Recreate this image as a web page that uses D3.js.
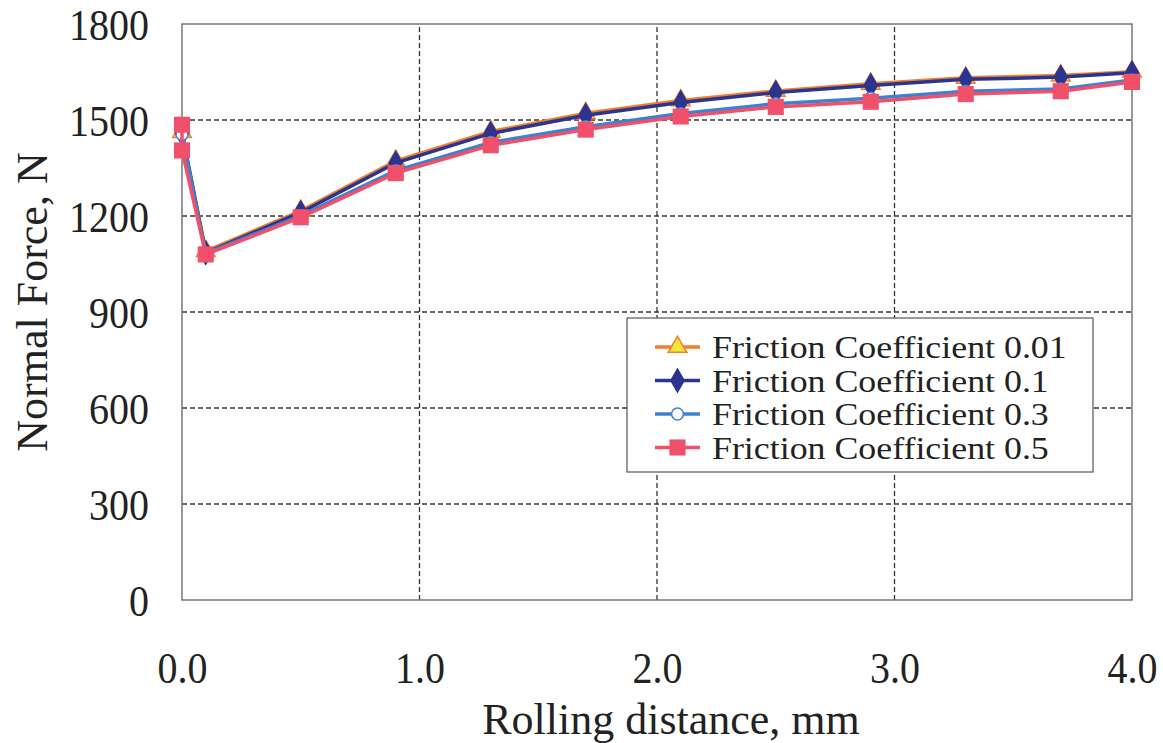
<!DOCTYPE html>
<html lang="en">
<head>
    <meta charset="UTF-8">
    <title>Normal force vs rolling distance</title>
    <script src="https://d3js.org/d3.v7.min.js"></script>
    <style>
        body { margin: 0; background: #fff; }
        svg { font-family: 'Liberation Serif', 'DejaVu Serif', serif; }
    </style>
</head>
<body>
    <div id="chart"></div>
    <script>
    // data
    var distance = [0, 0.1, 0.5, 0.9, 1.3, 1.7, 2.1, 2.5, 2.9, 3.3, 3.7, 4.0];
    var distance05 = [0, 0, 0.1, 0.5, 0.9, 1.3, 1.7, 2.1, 2.5, 2.9, 3.3, 3.7, 4.0];
    var force001 = [1462, 1090, 1216, 1372, 1464, 1521, 1561, 1591, 1613, 1632, 1639, 1651];
    var force01  = [1458, 1085, 1211, 1366, 1458, 1515, 1555, 1586, 1608, 1627, 1634, 1648];
    var force03  = [1455, 1083, 1201, 1342, 1430, 1479, 1520, 1551, 1568, 1590, 1597, 1625];
    var force05  = [1485, 1405, 1080, 1196, 1334, 1421, 1470, 1511, 1541, 1557, 1581, 1590, 1619];
    var xTicks = [0, 1, 2, 3, 4];
    var yTicks = [0, 300, 600, 900, 1200, 1500, 1800];
    var seriesNames = ['Friction Coefficient 0.01', 'Friction Coefficient 0.1',
                       'Friction Coefficient 0.3', 'Friction Coefficient 0.5'];

    var width = 1163, height = 743;
    var margin = {left: 182, right: 31, top: 24, bottom: 143};

    var svg = d3.select('#chart').append('svg')
        .attr('width', width)
        .attr('height', height);

    var x = d3.scaleLinear().domain([0, 4]).range([margin.left, width - margin.right]);
    var y = d3.scaleLinear().domain([0, 1800]).range([height - margin.bottom, margin.top]);

    // grid
    var grid = svg.append('g');
    grid.selectAll('.gx').data(xTicks.slice(1, -1)).enter().append('line')
        .attr('x1', d => x(d)).attr('x2', d => x(d))
        .attr('y1', y(0)).attr('y2', y(1800))
        .attr('stroke', '#333').attr('stroke-width', 1.3).attr('stroke-dasharray', '5,3');
    grid.selectAll('.gy').data(yTicks.slice(1, -1)).enter().append('line')
        .attr('x1', x(0)).attr('x2', x(4))
        .attr('y1', d => y(d)).attr('y2', d => y(d))
        .attr('stroke', '#333').attr('stroke-width', 1.3).attr('stroke-dasharray', '5,3');

    // frame
    svg.append('rect')
        .attr('x', x(0)).attr('y', y(1800))
        .attr('width', x(4) - x(0)).attr('height', y(0) - y(1800))
        .attr('fill', 'none').attr('stroke', '#777').attr('stroke-width', 1.5);

    // axes
    var xAxis = svg.append('g')
        .attr('transform', `translate(0, ${y(0)})`)
        .call(d3.axisBottom(x).tickValues(xTicks).tickFormat(d3.format('.1f')).tickSize(0));
    var yAxis = svg.append('g')
        .attr('transform', `translate(${x(0)}, 0)`)
        .call(d3.axisLeft(y).tickValues(yTicks).tickFormat(d3.format('d')).tickSize(0).tickPadding(33));
    [xAxis, yAxis].forEach(function(a) {
        a.select('.domain').remove();
        a.selectAll('.tick text')
            .style('font-family', 'Liberation Serif')
            .style('font-size', '40px')
            .attr('fill', '#222');
    });
    yAxis.selectAll('.tick text').attr('dy', '0.34em').attr('transform', 'scale(1,1.12)');
    xAxis.selectAll('.tick text').attr('y', 0).attr('dy', 0)
        .attr('transform', 'translate(0, 83) scale(1,1.12)');

    svg.append('text')
        .attr('x', (x(0) + x(4)) / 2 + 14)
        .attr('y', 734)
        .attr('text-anchor', 'middle')
        .style('font-size', '44px')
        .attr('fill', '#222')
        .text('Rolling distance, mm');

    svg.append('text')
        .attr('transform', `translate(47, ${(y(0) + y(1800)) / 2 - 10}) rotate(-90)`)
        .attr('text-anchor', 'middle')
        .style('font-size', '44px')
        .attr('fill', '#222')
        .text('Normal Force, N');

    // series
    var series = [
        {name: seriesNames[0], xs: distance, ys: force001, color: '#ee8030', marker: 'triangle', fill: '#f5e63a'},
        {name: seriesNames[1], xs: distance, ys: force01, color: '#2b3590', marker: 'diamond', fill: '#2b3590'},
        {name: seriesNames[2], xs: distance, ys: force03, color: '#3b82d0', marker: 'circle', fill: '#ffffff'},
        {name: seriesNames[3], xs: distance05, ys: force05, color: '#f0506a', marker: 'square', fill: '#f0506a'}
    ];
    var symbolType = {triangle: d3.symbolTriangle, diamond: d3.symbolDiamond, circle: d3.symbolCircle, square: d3.symbolSquare};
    var symbolSize = {triangle: 150, diamond: 150, circle: 110, square: 260};

    var line = d3.line().x(d => x(d[0])).y(d => y(d[1]));

    series.forEach(function(s) {
        var pts = s.xs.map((v, i) => [v, s.ys[i]]);
        svg.append('path')
            .datum(pts)
            .attr('d', line)
            .attr('fill', 'none')
            .attr('stroke', s.color)
            .attr('stroke-width', 3.5);
        svg.append('g').selectAll('path').data(pts).enter().append('path')
            .attr('transform', d => `translate(${x(d[0])}, ${y(d[1])})`)
            .attr('d', d3.symbol().type(symbolType[s.marker]).size(symbolSize[s.marker]))
            .attr('fill', s.fill)
            .attr('stroke', s.color)
            .attr('stroke-width', s.marker === 'square' ? 0 : 1.5);
    });

    // legend
    var lg = svg.append('g').attr('transform', 'translate(627, 318)');
    lg.append('rect')
        .attr('width', 466).attr('height', 154)
        .attr('fill', '#fff').attr('stroke', '#555').attr('stroke-width', 1.2);
    series.forEach(function(s, i) {
        var cy = 29 + i * 33.5;
        lg.append('line')
            .attr('x1', 28).attr('x2', 73).attr('y1', cy).attr('y2', cy)
            .attr('stroke', s.color).attr('stroke-width', 3.5);
        lg.append('path')
            .attr('transform', `translate(50.5, ${cy})`)
            .attr('d', d3.symbol().type(symbolType[s.marker]).size(symbolSize[s.marker]))
            .attr('fill', s.fill)
            .attr('stroke', s.color)
            .attr('stroke-width', s.marker === 'square' ? 0 : 1.5);
        var t = lg.append('text')
            .attr('x', 85).attr('y', cy)
            .attr('dy', '0.35em')
            .style('font-size', '32px')
            .attr('fill', '#222')
            .text(s.name);
        // stretch a little wider, the original glyphs are broader
        var w = t.node().getComputedTextLength();
        t.attr('textLength', w * 1.12).attr('lengthAdjust', 'spacingAndGlyphs');
    });
    </script>
</body>
</html>
